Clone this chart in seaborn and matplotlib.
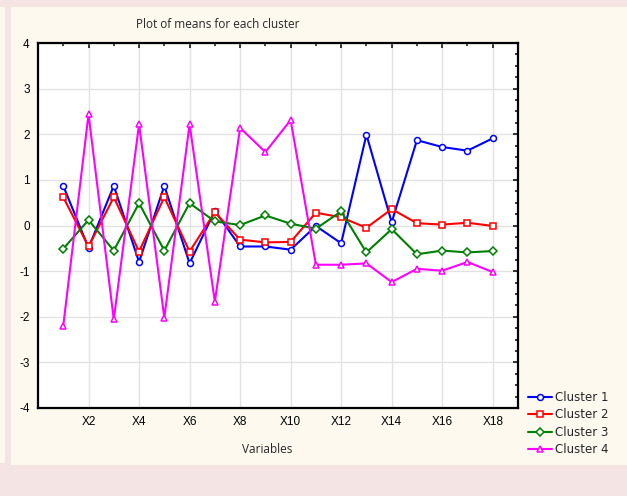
import pandas as pd
import matplotlib.pyplot as plt
import seaborn as sns
import numpy as np
from matplotlib.patches import Rectangle
from matplotlib.ticker import MultipleLocator, FixedLocator

variables = [f"X{i}" for i in range(1, 19)]
cluster1 = [0.87, -0.49, 0.87, -0.80, 0.87, -0.83, 0.32, -0.46, -0.46, -0.53,
            -0.01, -0.39, 1.99, 0.07, 1.87, 1.72, 1.64, 1.91]
cluster2 = [0.62, -0.46, 0.62, -0.57, 0.62, -0.57, 0.29, -0.31, -0.37, -0.36,
            0.28, 0.18, -0.05, 0.36, 0.05, 0.02, 0.06, -0.01]
cluster3 = [-0.51, 0.12, -0.55, 0.49, -0.55, 0.49, 0.09, 0.01, 0.22, 0.04,
            -0.07, 0.31, -0.59, -0.08, -0.63, -0.55, -0.59, -0.56]
cluster4 = [-2.20, 2.44, -2.06, 2.22, -2.02, 2.22, -1.67, 2.14, 1.61, 2.31,
            -0.86, -0.86, -0.83, -1.24, -0.95, -0.99, -0.80, -1.02]
cluster_names = ["Cluster 1", "Cluster 2", "Cluster 3", "Cluster 4"]
colors = ["#0000ff", "#ff0000", "#008000", "#ff00ff"]
markers = ["o", "s", "D", "^"]

data = pd.DataFrame({"pos": np.arange(1, 19), "Cluster 1": cluster1, "Cluster 2": cluster2,
                     "Cluster 3": cluster3, "Cluster 4": cluster4})

sns.set_theme(style="white")
plt.rcParams["font.family"] = ["Liberation Sans", "DejaVu Sans"]
plt.rcParams["axes.unicode_minus"] = False

fig = plt.figure(figsize=(6.27, 4.96), dpi=100)
fig.patch.set_facecolor("#f4e4e4")
cream = "#fef9ee"
# background panels
fig.patches.append(Rectangle((11/627, 1-465/496), 616/627, 458/496, transform=fig.transFigure,
                             facecolor=cream, edgecolor="none", zorder=-10))
fig.patches.append(Rectangle((0, 1-463/496), 5/627, 456/496, transform=fig.transFigure,
                             facecolor=cream, edgecolor="none", zorder=-10))

ax = fig.add_axes([38/627, 1-408/496, 480/627, 365/496])
ax.set_facecolor("white")

for name, c, m in zip(cluster_names, colors, markers):
    ms = 4.3 if m != "D" else 3.8
    sns.lineplot(data=data, x="pos", y=name, ax=ax, color=c, marker=m, label=name,
                 linewidth=1.5, markersize=ms, markeredgecolor=c, markerfacecolor="white",
                 markeredgewidth=1.1)

ax.set_xlim(0, 19)
ax.set_ylim(-4, 4)
ax.xaxis.set_major_locator(FixedLocator(range(2, 19, 2)))
ax.set_xticklabels(variables[1::2])
ax.xaxis.set_minor_locator(MultipleLocator(1))
ax.yaxis.set_major_locator(MultipleLocator(1))
ax.yaxis.set_minor_locator(MultipleLocator(0.25))
ax.grid(True, which="major", color="#e2e2e2", linewidth=1)
ax.set_axisbelow(True)
ax.tick_params(which="both", direction="in", top=True, right=True, colors="black",
               labelsize=8.5, width=1.1)
ax.tick_params(which="major", length=3.5, pad=6)
ax.tick_params(which="minor", length=2)
for s in ax.spines.values():
    s.set_color("black")
    s.set_linewidth(1.6)

ax.set_ylabel("")
ax.set_xlabel("Variables", fontsize=8.5, family="Open Sans")
ax.xaxis.set_label_coords(229/480, -0.095)

fig.text(218/627, 1-25/496, "Plot of means for each cluster", ha="center", va="center",
         fontsize=8.5, family="Open Sans")

leg = ax.legend(loc="upper left", bbox_to_anchor=(528/627, 1-391/496),
                bbox_transform=fig.transFigure, frameon=False, fontsize=8.5,
                handlelength=2.0, handletextpad=0.3, labelspacing=0.38,
                borderaxespad=0, borderpad=0)
for t in leg.get_texts():
    t.set_family("DejaVu Sans")

plt.savefig("out.png", dpi=100, facecolor=fig.get_facecolor())
